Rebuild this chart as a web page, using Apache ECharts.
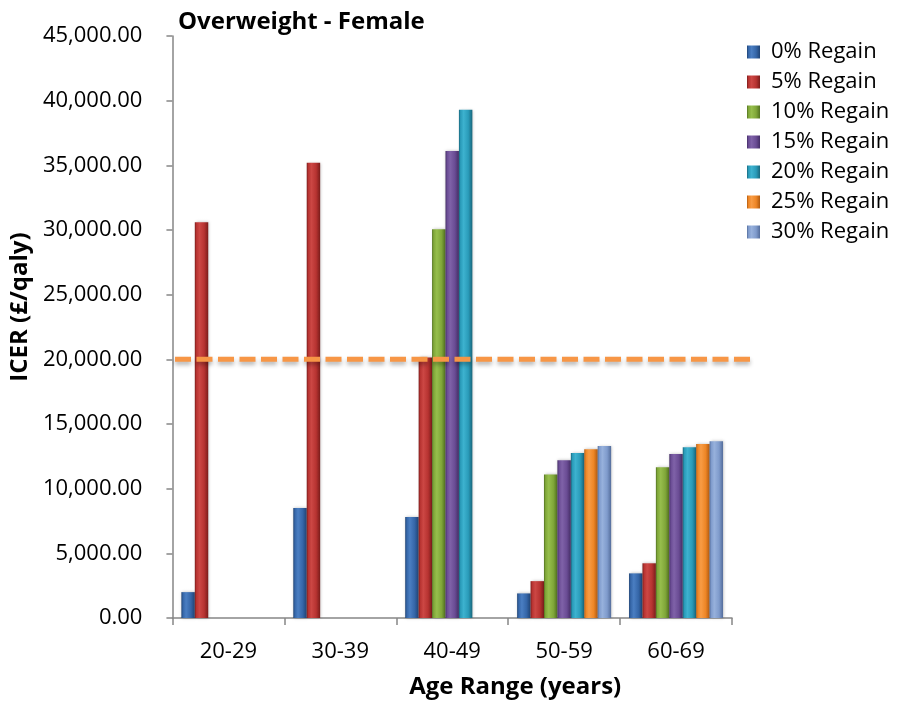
<!DOCTYPE html>
<html>
<head>
<meta charset="utf-8">
<script src="https://cdn.jsdelivr.net/npm/echarts@6/dist/echarts.min.js"></script>
<style>
  html, body { margin: 0; padding: 0; background: #fff; }
  #chart { width: 899px; height: 706px; }
</style>
</head>
<body>
<div id="chart"></div>
<script>
// Age bands on the x axis
const ageRanges = ['20-29', '30-39', '40-49', '50-59', '60-69'];

// Series names (weight regain scenarios)
const seriesNames = ['0% Regain', '5% Regain', '10% Regain', '15% Regain', '20% Regain', '25% Regain', '30% Regain'];

// ICER values (£/qaly) per scenario, one entry per age band; null = not shown
const regain0  = [2000, 8500, 7800, 1900, 3450];
const regain5  = [30600, 35200, 20150, 2850, 4230];
const regain10 = [null, null, 30050, 11100, 11650];
const regain15 = [null, null, 36100, 12200, 12680];
const regain20 = [null, null, 39300, 12750, 13200];
const regain25 = [null, null, null, 13050, 13450];
const regain30 = [null, null, null, 13300, 13660];

// Willingness-to-pay threshold
const threshold = 20000;

// Y axis range
const yMin = 0, yMax = 45000, yStep = 5000;

const allValues = [regain0, regain5, regain10, regain15, regain20, regain25, regain30];

// base / light / dark edge colours for each series
const palette = [
  ['#3566A8', '#4A7EC2', '#1F4374'],
  ['#B73331', '#CC4744', '#7A1C1A'],
  ['#80A739', '#96BE4C', '#527221'],
  ['#6A4C94', '#7F62A8', '#442D66'],
  ['#2A9BB9', '#3DB2CF', '#19677C'],
  ['#EE8626', '#F89C45', '#B05A10'],
  ['#7F9BCC', '#97B1DC', '#546D9B']
];

// horizontal shading that gives each bar a rounded, bevelled look
function bevel(c) {
  return new echarts.graphic.LinearGradient(0, 0, 1, 0, [
    { offset: 0, color: c[2] },
    { offset: 0.12, color: c[0] },
    { offset: 0.35, color: c[1] },
    { offset: 0.7, color: c[0] },
    { offset: 1, color: c[2] }
  ]);
}

const fontFamily = '"Open Sans", "Liberation Sans", sans-serif';

const barSeries = seriesNames.map((name, i) => ({
  name: name,
  type: 'bar',
  xAxisIndex: 0,
  yAxisIndex: 0,
  barGap: '0%',
  barCategoryGap: '16%',
  data: allValues[i],
  itemStyle: {
    color: bevel(palette[i]),
    shadowColor: 'rgba(0,0,0,0.25)',
    shadowBlur: 3,
    shadowOffsetX: 1
  },
  emphasis: { disabled: true }
}));

const chart = echarts.init(document.getElementById('chart'), null, { renderer: 'canvas' });

chart.setOption({
  animation: false,
  backgroundColor: '#ffffff',
  title: {
    text: 'Overweight - Female',
    left: 173,
    top: 5,
    textStyle: { fontFamily: fontFamily, fontSize: 24, fontWeight: 'bold', color: '#000' }
  },
  legend: {
    orient: 'vertical',
    left: 742,
    top: 36,
    itemWidth: 13,
    itemHeight: 13,
    itemGap: 8,
    icon: 'rect',
    data: seriesNames.map((n, i) => ({ name: n, itemStyle: { color: bevel(palette[i]) } })),
    textStyle: { fontFamily: fontFamily, fontSize: 22, lineHeight: 22, color: '#000', padding: [0, 0, 0, 6] }
  },
  grid: [
    { left: 172, right: 167, top: 36, bottom: 88 },
    { left: 175, right: 147, top: 36, bottom: 88 }
  ],
  xAxis: [
    {
      type: 'category',
      gridIndex: 0,
      data: ageRanges,
      name: 'Age Range (years)',
      nameLocation: 'middle',
      nameGap: 57,
      nameTextStyle: { fontFamily: fontFamily, fontSize: 24, fontWeight: 'bold', color: '#000', padding: [0, 0, 0, 126] },
      axisLine: { lineStyle: { color: '#868686', width: 1.5 } },
      axisTick: { show: true, alignWithLabel: false, length: 7, lineStyle: { color: '#868686', width: 1.5 } },
      axisLabel: { fontFamily: fontFamily, fontSize: 22, color: '#000', margin: 23 }
    },
    { type: 'value', gridIndex: 1, min: 0, max: 1, show: false }
  ],
  yAxis: [
    {
      type: 'value',
      gridIndex: 0,
      min: yMin,
      max: yMax,
      interval: yStep,
      name: 'ICER (£/qaly)',
      nameLocation: 'middle',
      nameGap: 137,
      nameTextStyle: { fontFamily: fontFamily, fontSize: 24, fontWeight: 'bold', color: '#000', padding: [0, 0, 0, 40] },
      axisLine: { show: true, lineStyle: { color: '#868686', width: 1.5 } },
      axisTick: { show: true, length: 6, lineStyle: { color: '#868686', width: 1.5 } },
      splitLine: { show: false },
      axisLabel: {
        fontFamily: fontFamily,
        fontSize: 22,
        color: '#000',
        margin: 30,
        formatter: v => v.toLocaleString('en-US', { minimumFractionDigits: 2, maximumFractionDigits: 2 })
      }
    },
    { type: 'value', gridIndex: 1, min: yMin, max: yMax, show: false }
  ],
  series: barSeries.concat([{
    name: 'threshold',
    type: 'line',
    xAxisIndex: 1,
    yAxisIndex: 1,
    symbol: 'none',
    silent: true,
    data: [[0, threshold], [1, threshold]],
    lineStyle: {
      color: '#F79646',
      width: 5,
      type: [16, 5.5],
      shadowColor: 'rgba(0,0,0,0.3)',
      shadowBlur: 4,
      shadowOffsetY: 3
    },
    z: 5
  }])
});
</script>
</body>
</html>
